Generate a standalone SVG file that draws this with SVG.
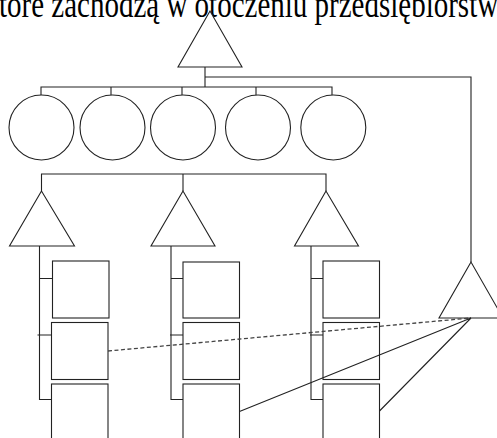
<svg xmlns="http://www.w3.org/2000/svg" width="497" height="438" viewBox="0 0 497 438">
<style>
.s{fill:#fff;stroke:#222;stroke-width:1.1}
.l{fill:none;stroke:#222;stroke-width:1.1}
.d{fill:none;stroke:#444;stroke-width:1.3;stroke-dasharray:4 2.5}
</style>
<rect width="497" height="438" fill="#fff"/>
<text x="-1" y="12.8" transform="scale(1,1.3)" font-family="'Liberation Serif', 'Times New Roman', serif" font-size="29" fill="#000">tóre zachodzą w otoczeniu przedsiębiorstw</text>
<g id="top"><polygon class="s" points="210,11 178,67 242,67"/></g>
<g id="c1"><circle class="s" cx="41.5" cy="127.5" r="32.5"/></g>
<g id="c2"><circle class="s" cx="112.5" cy="127.5" r="32.5"/></g>
<g id="c3"><circle class="s" cx="183" cy="127.5" r="32.5"/></g>
<g id="c4"><circle class="s" cx="258" cy="127.5" r="32.5"/></g>
<g id="c5"><circle class="s" cx="333.3" cy="127.5" r="32.5"/></g>
<g id="t1"><polygon class="s" points="41.5,191 9.5,246 74.5,246"/></g>
<g id="t2"><polygon class="s" points="183,191 151,246 215,246"/></g>
<g id="t3"><polygon class="s" points="326,191 294.5,246 358.5,246"/></g>
<g id="tr"><polygon class="s" points="471,262 439,318 503,318"/></g>
<g id="b11"><rect class="s" x="52.5" y="261" width="56.5" height="57"/></g>
<g id="b12"><rect class="s" x="51.5" y="322.5" width="56.5" height="57"/></g>
<g id="b13"><rect class="s" x="51.5" y="384" width="56.5" height="60"/></g>
<g id="b21"><rect class="s" x="183" y="262" width="56.5" height="56"/></g>
<g id="b22"><rect class="s" x="183" y="322.5" width="56.5" height="57"/></g>
<g id="b23"><rect class="s" x="183" y="384" width="56.5" height="60"/></g>
<g id="b31"><rect class="s" x="323" y="261" width="56.5" height="57"/></g>
<g id="b32"><rect class="s" x="323" y="322.5" width="56.5" height="57"/></g>
<g id="b33"><rect class="s" x="323" y="384" width="56.5" height="60"/></g>
<g id="connectors">
<path class="l" d="M205,67V87M205,77H471V262"/>
<path class="l" d="M41,95V87H332V95M111,87V95M182,87V95M256,87V95"/>
<path class="l" d="M41.5,191V174H326V191M183,174V191"/>
<path class="l" d="M39.5,246V399.5H51.5M39.5,278.5H52.5M37.5,335H51.5"/>
<path class="l" d="M171,246V399.5H183M171,278.5H183M170,335H183"/>
<path class="l" d="M311,246V399.5H323M311,278.5H323M310,335H323"/>
<path class="d" d="M108,351L471,318"/>
<path class="l" d="M471,318L239.5,411.5M471,318L379.5,411"/>
</g>
</svg>
